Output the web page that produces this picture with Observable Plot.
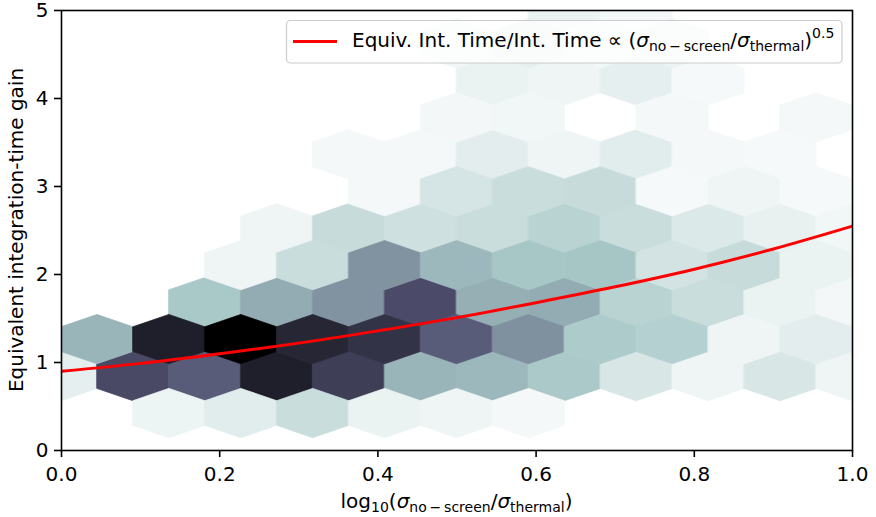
<!DOCTYPE html>
<html>
<head>
<meta charset="utf-8">
<script src="https://cdn.jsdelivr.net/npm/d3@7"></script>
<script src="https://cdn.jsdelivr.net/npm/@observablehq/plot@0.6"></script>
<style>
  html, body { margin: 0; padding: 0; background: #fff; }
  #chart { width: 876px; height: 517px; }
  #chart svg [aria-label$="-axis"] line,
  #chart svg [aria-label$="axis tick"] path { stroke-width: 1.6px; }
</style>
</head>
<body>
<div id="chart"></div>
<script>
// ---------- data ----------
const xTicks = [0, 0.2, 0.4, 0.6, 0.8, 1.0];
const yTicks = [0, 1, 2, 3, 4, 5];

// hexbin grid: 11 cells across x in [0,1], lattice row spacing 0.84 in y
const hexNx = 11;
const hexSy = 0.84;

// colour intensity (0 = white, 1 = black, bone_r colormap) per hexagon
// lattice A: centres x = k/11, y = j*0.84  (rows from bottom)
const latticeA_row0 = [0, 0, 0, 0, 0, 0, 0, 0, 0, 0, 0, 0];
const latticeA_row1 = [0.07, 0.67, 0.60, 0.86, 0.72, 0.31, 0.30, 0.24, 0.11, 0.045, 0.11, 0.045];
const latticeA_row2 = [0, 0, 0.245, 0.34, 0.42, 0.66, 0.33, 0.34, 0.20, 0.15, 0.06, 0.035];
const latticeA_row3 = [0, 0, 0, 0.045, 0.16, 0.14, 0.15, 0.20, 0.15, 0.10, 0.065, 0.04];
const latticeA_row4 = [0, 0, 0, 0, 0.03, 0.03, 0.08, 0.045, 0.085, 0.03, 0.025, 0];
const latticeA_row5 = [0, 0, 0, 0, 0, 0, 0.06, 0.045, 0.07, 0.025, 0, 0];
const latticeA_row6 = [0, 0, 0, 0, 0, 0, 0, 0.06, 0.03, 0, 0, 0];
// lattice B: centres x = (k+0.5)/11, y = (j+0.5)*0.84
const latticeB_row0 = [0, 0.05, 0.085, 0.15, 0.06, 0.045, 0.03, 0, 0, 0, 0];
const latticeB_row1 = [0.31, 0.86, 1.0, 0.83, 0.77, 0.60, 0.43, 0.23, 0.21, 0.045, 0.08];
const latticeB_row2 = [0, 0, 0.045, 0.15, 0.42, 0.30, 0.25, 0.255, 0.125, 0.16, 0.06];
const latticeB_row3 = [0, 0, 0, 0, 0.03, 0.12, 0.15, 0.16, 0.025, 0.045, 0.025];
const latticeB_row4 = [0, 0, 0, 0, 0, 0.035, 0.04, 0, 0.03, 0, 0.03];
const latticeB_row5 = [0, 0, 0, 0, 0, 0.04, 0.07, 0.04, 0.06, 0, 0];

// fitted relation (red curve)
const fitX = [0.0, 0.1, 0.2, 0.3, 0.4, 0.5, 0.6, 0.7, 0.8, 0.9, 1.0];
const fitY = [0.90, 0.99, 1.10, 1.22, 1.36, 1.51, 1.68, 1.86, 2.06, 2.29, 2.55];

// bone_r colormap anchors
const boneDomain = [0, 0.254, 0.635, 1];
const boneRange = ["#ffffff", "#a6c6c6", "#515171", "#000000"];

// ---------- build hexagon outlines (as areas between lower/upper edges) ----------
const latticeA = [latticeA_row0, latticeA_row1, latticeA_row2, latticeA_row3, latticeA_row4, latticeA_row5, latticeA_row6];
const latticeB = [latticeB_row0, latticeB_row1, latticeB_row2, latticeB_row3, latticeB_row4, latticeB_row5];
const sx = 1 / hexNx;
const hexRows = [];
let hid = 0;
function addHex(cx, cy, v) {
  if (!(v > 0)) return;
  const id = hid++;
  hexRows.push({id, v, x: cx - sx / 2, y1: cy - hexSy / 6, y2: cy + hexSy / 6});
  hexRows.push({id, v, x: cx, y1: cy - hexSy / 3, y2: cy + hexSy / 3});
  hexRows.push({id, v, x: cx + sx / 2, y1: cy - hexSy / 6, y2: cy + hexSy / 6});
}
latticeA.forEach((row, j) => row.forEach((v, k) => addHex(k * sx, j * hexSy, v)));
latticeB.forEach((row, j) => row.forEach((v, k) => addHex((k + 0.5) * sx, (j + 0.5) * hexSy, v)));
const fit = fitX.map((x, i) => ({x, y: fitY[i]}));

// ---------- plot ----------
const svg = Plot.plot({
  width: 876,
  height: 517,
  marginLeft: 61,
  marginRight: 24,
  marginTop: 10,
  marginBottom: 67,
  style: {fontFamily: "DejaVu Sans", fontSize: "20px", color: "black", background: "white", overflow: "visible"},
  x: {domain: [0, 1], ticks: xTicks, tickFormat: d3.format(".1f"), tickSize: 7, tickPadding: 9, label: null},
  y: {domain: [0, 5], ticks: yTicks, tickFormat: d3.format("d"), tickSize: 7, tickPadding: 6, label: null},
  color: {type: "linear", domain: boneDomain, range: boneRange, interpolate: "rgb"},
  marks: [
    Plot.areaY(hexRows, {x: "x", y1: "y1", y2: "y2", z: "id", fill: "v", stroke: "v", strokeWidth: 0.8, curve: "linear", clip: true}),
    Plot.line(fit, {x: "x", y: "y", stroke: "#ff0000", strokeWidth: 3, curve: "catmull-rom", clip: true}),
    Plot.frame({stroke: "black", strokeWidth: 1.6})
  ]
});
document.getElementById("chart").appendChild(svg);

// ---------- labels and legend ----------
const s = d3.select(svg);
function mathLabel(text, parts) {
  parts.forEach(p => {
    const t = text.append("tspan").text(p.t);
    if (p.size) t.attr("font-size", p.size);
    if (p.dy) t.attr("dy", p.dy);
    if (p.it) t.attr("font-style", "italic");
  });
}
// y label
s.append("text")
  .attr("transform", "translate(23,230) rotate(-90)")
  .attr("text-anchor", "middle")
  .attr("font-size", 20)
  .attr("fill", "black")
  .text("Equivalent integration-time gain");

// x label
const xl = s.append("text")
  .attr("x", 456.5).attr("y", 508)
  .attr("text-anchor", "middle")
  .attr("font-size", 20).attr("fill", "black");
mathLabel(xl, [
  {t: "log"}, {t: "10", size: 14, dy: 4}, {t: "(", dy: -4}, {t: "σ", it: true},
  {t: "no\u2009\u2212\u2009screen", size: 14, dy: 4}, {t: "/", dy: -4}, {t: "σ", it: true},
  {t: "thermal", size: 14, dy: 4}, {t: ")", dy: -4}
]);

// legend
const lg = s.append("g");
lg.append("rect")
  .attr("x", 286.5).attr("y", 20.5).attr("width", 555.5).attr("height", 42.5)
  .attr("rx", 4).attr("fill", "white").attr("fill-opacity", 0.8)
  .attr("stroke", "#cccccc").attr("stroke-width", 1.2);
lg.append("line")
  .attr("x1", 293).attr("x2", 337).attr("y1", 41.5).attr("y2", 41.5)
  .attr("stroke", "#ff0000").attr("stroke-width", 3);
const lt = lg.append("text")
  .attr("x", 352).attr("y", 47)
  .attr("text-anchor", "start")
  .attr("font-size", 20).attr("fill", "black");
mathLabel(lt, [
  {t: "Equiv. Int. Time/Int. Time \u221D ("}, {t: "σ", it: true},
  {t: "no\u2009\u2212\u2009screen", size: 14, dy: 4}, {t: "/", dy: -4}, {t: "σ", it: true},
  {t: "thermal", size: 14, dy: 4}, {t: ")", dy: -4}, {t: "0.5", size: 14, dy: -9}
]);
</script>
</body>
</html>
